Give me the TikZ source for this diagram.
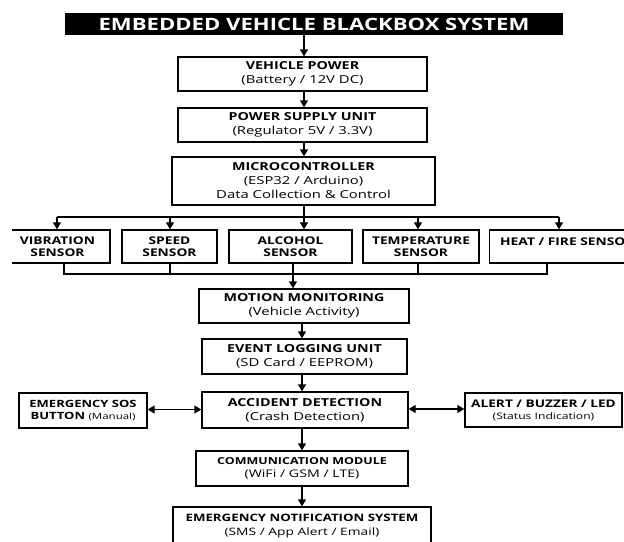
\documentclass[tikz,border=0pt]{standalone}
\usepackage{fontspec}
\setmainfont{Open Sans}[FakeStretch=1.35,BoldFeatures={FakeStretch=1.3}]
\usetikzlibrary{arrows.meta,calc}
\begin{document}
\begin{tikzpicture}[x=1pt,y=-1pt,
  box/.style={draw=black,line width=1.3pt,fill=white,inner sep=0pt,align=center,
    font={\fontsize{11}{14}\selectfont}},
  sens/.style={box,minimum height=33pt,font={\bfseries\fontsize{10.6}{12}\selectfont}},
  conn/.style={line width=1.3pt,draw=black},
  arr/.style={conn,-{Triangle[length=7pt,width=8pt]}},
  darr/.style={conn,{Triangle[length=7pt,width=8pt]}-{Triangle[length=7pt,width=8pt]}}
]
\useasboundingbox (0,0) rectangle (624,541);
\begin{scope}
\clip (12,0) rectangle (624,541);
% title
\node[fill=black,text=white,minimum width=498pt,minimum height=22pt,inner sep=0pt,
  font={\bfseries\fontsize{17}{18}\selectfont}] (title) at (314,24) {EMBEDDED VEHICLE BLACKBOX SYSTEM};
% main chain
\node[box,minimum width=249pt,minimum height=34pt] (vp) at (302.5,74)
  {\textbf{VEHICLE POWER}\\(Battery / 12V DC)};
\node[box,minimum width=249pt,minimum height=34pt] (psu) at (302.5,125)
  {\textbf{POWER SUPPLY UNIT}\\(Regulator 5V / 3.3V)};
\node[box,minimum width=263pt,minimum height=48pt] (mcu) at (303.5,181)
  {\textbf{MICROCONTROLLER}\\(ESP32 / Arduino)\\Data Collection \& Control};
% sensors
\node[sens,minimum width=105pt] (vib) at (57.5,246.5) {VIBRATION\\SENSOR};
\node[sens,minimum width=95pt] (spd) at (169.5,246.5) {SPEED\\SENSOR};
\node[sens,minimum width=123pt] (alc) at (290.5,246.5) {ALCOHOL\\SENSOR};
\node[sens,minimum width=116pt] (tmp) at (421,246.5) {TEMPERATURE\\SENSOR};
\node[sens,minimum width=150pt,anchor=west] (heat) at (489,246.5) {};
\node[anchor=west,inner sep=0pt,font={\bfseries\fontsize{10.6}{14}\selectfont}] (heattxt) at (500,242) {HEAT / FIRE SENSOR};
% lower chain
\node[box,minimum width=210pt,minimum height=34pt] (mot) at (304,306)
  {\textbf{MOTION MONITORING}\\(Vehicle Activity)};
\node[box,minimum width=205pt,minimum height=35pt] (evt) at (304.5,356.5)
  {\textbf{EVENT LOGGING UNIT}\\(SD Card / EEPROM)};
\node[box,minimum width=206pt,minimum height=36pt] (acc) at (305,410)
  {\textbf{ACCIDENT DETECTION}\\(Crash Detection)};
\node[box,minimum width=128pt,minimum height=35pt,font={\fontsize{10}{12}\selectfont}] (sos) at (83,410.5)
  {\textbf{EMERGENCY SOS}\\\textbf{BUTTON} {\fontsize{8.5}{12}\selectfont(Manual)}};
\node[box,minimum width=157pt,minimum height=34pt,font={\fontsize{10.5}{12}\selectfont}] (alr) at (543.5,410)
  {\textbf{ALERT / BUZZER / LED}\\{\fontsize{9}{12}\selectfont(Status Indication)}};
\node[box,minimum width=212pt,minimum height=35pt,font={\fontsize{9.6}{13}\selectfont}] (com) at (302,468.5)
  {\textbf{COMMUNICATION MODULE}\\{\fontsize{10.5}{13}\selectfont(WiFi / GSM / LTE)}};
\node[box,minimum width=258pt,minimum height=38pt,font={\fontsize{10.2}{14}\selectfont}] (ens) at (302,526)
  {\textbf{EMERGENCY NOTIFICATION SYSTEM}\\(SMS / App Alert / Email)};
% helper coordinates
\coordinate (bt) at (0,217);
\coordinate (bb) at (0,274);
\coordinate (cx) at (304,0);
\coordinate (vibIn) at (57,217);
\coordinate (vibOut) at (64,274);
\coordinate (spdX) at (170,217);
\coordinate (tmpX) at (418,217);
\coordinate (heatIn) at (559,217);
\coordinate (heatOut) at (547,274);
\coordinate (alcOut) at (293,274);
\coordinate (lx) at (302,0);
% arrows top chain
\draw[arr] (title.south -| cx) -- (vp.north -| cx);
\draw[arr] (vp.south -| cx) -- (psu.north -| cx);
\draw[arr] (psu.south -| cx) -- (mcu.north -| cx);
% branch bus
\draw[conn] (mcu.south -| cx) -- (cx |- bt);
\draw[conn] (vibIn) -- (heatIn);
\draw[arr] (vibIn) -- (vibIn |- vib.north);
\draw[arr] (spdX) -- (spdX |- spd.north);
\draw[arr] (cx |- bt) -- (cx |- alc.north);
\draw[arr] (tmpX) -- (tmpX |- tmp.north);
\draw[arr] (heatIn) -- (heatIn |- heat.north);
% collecting bus
\draw[conn] (vibOut |- vib.south) -- (vibOut) -- (heatOut) -- (heatOut |- heat.south);
\draw[conn] (spdX |- spd.south) -- (spdX |- bb);
\draw[conn] (tmpX |- tmp.south) -- (tmpX |- bb);
\draw[arr] (alcOut |- alc.south) -- (alcOut |- mot.north);
% lower chain
\draw[arr] (mot.south -| lx) -- (evt.north -| lx);
\draw[arr] (evt.south -| lx) -- (acc.north -| lx);
\draw[arr] (acc.south -| lx) -- (com.north -| lx);
\draw[arr] (com.south -| lx) -- (ens.north -| lx);
\draw[darr] ([yshift=1pt]sos.east) -- ([yshift=1pt]sos.east -| acc.west);
\draw[darr] ([yshift=1pt]acc.east) -- ([yshift=1pt]acc.east -| alr.west);
\end{scope}
\end{tikzpicture}
\end{document}
